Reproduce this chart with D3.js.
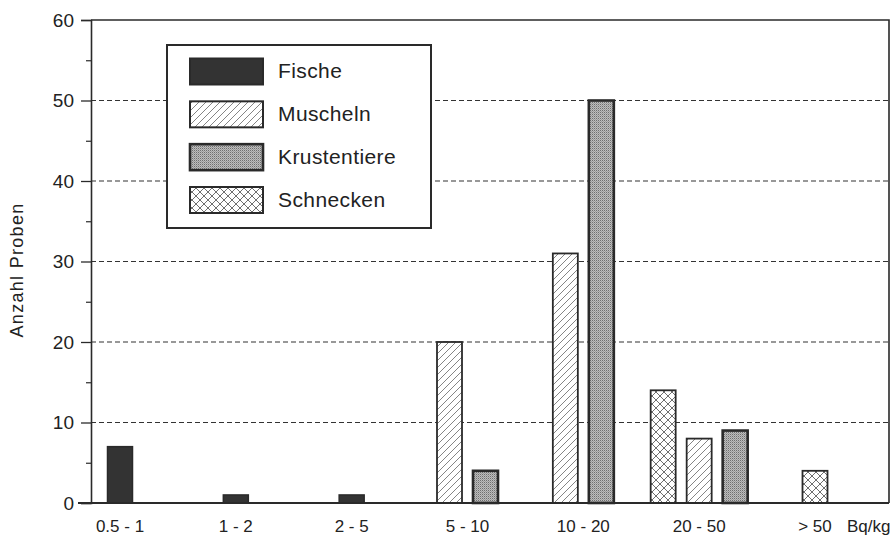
<!DOCTYPE html>
<html>
<head>
<meta charset="utf-8">
<script src="https://cdn.jsdelivr.net/npm/d3@7/dist/d3.min.js"></script>
<style>
  html, body { margin: 0; padding: 0; background: #fff; }
  svg { display: block; }
  text { font-family: "Liberation Sans", Arial, Helvetica, sans-serif; fill: #222; }
</style>
</head>
<body>
<svg id="chart" width="895" height="539"></svg>
<script>
// ---- data ----
const categories = ["0.5 - 1", "1 - 2", "2 - 5", "5 - 10", "10 - 20", "20 - 50", "> 50"];
const unitLabel = "Bq/kg";
const seriesNames = ["Fische", "Schnecken", "Muscheln", "Krustentiere"];
const fische       = [7, 1, 1, 0, 0, 0, 0];
const schnecken    = [0, 0, 0, 0, 0, 14, 4];
const muscheln     = [0, 0, 0, 20, 31, 8, 0];
const krustentiere = [0, 0, 0, 4, 50, 9, 0];
const legendOrder = ["Fische", "Muscheln", "Krustentiere", "Schnecken"];
const yMajorTicks = [0, 10, 20, 30, 40, 50, 60];
const yMinorTicks = [5, 15, 25, 35, 45, 55];
const gridTicks = [10, 20, 30, 40, 50];
const yTitle = "Anzahl Proben";

const valuesBySeries = { Fische: fische, Schnecken: schnecken, Muscheln: muscheln, Krustentiere: krustentiere };

// ---- layout ----
const svg = d3.select("#chart");
const plotLeft = 91, plotRight = 889, plotTop = 20, plotBottom = 503;
const barW = 25, barPitch = 36;

const y = d3.scaleLinear().domain([0, 60]).range([plotBottom, plotTop]);
const x = d3.scalePoint().domain(categories).range([120, 815]);

// ---- patterns ----
const defs = svg.append("defs");
const hatch = defs.append("pattern").attr("id", "hatch").attr("patternUnits", "userSpaceOnUse")
  .attr("width", 7).attr("height", 7);
hatch.append("rect").attr("width", 7).attr("height", 7).attr("fill", "#fff");
hatch.append("path").attr("d", "M-1,8 L8,-1 M-2,2 L2,-2 M5,9 L9,5").attr("stroke", "#666").attr("stroke-width", 0.8);

const cross = defs.append("pattern").attr("id", "cross").attr("patternUnits", "userSpaceOnUse")
  .attr("width", 8).attr("height", 8);
cross.append("rect").attr("width", 8).attr("height", 8).attr("fill", "#fff");
cross.append("path").attr("d", "M0,0 L8,8 M8,0 L0,8").attr("stroke", "#555").attr("stroke-width", 0.85);

const stip = defs.append("pattern").attr("id", "stip").attr("patternUnits", "userSpaceOnUse")
  .attr("width", 2).attr("height", 2);
stip.append("rect").attr("width", 2).attr("height", 2).attr("fill", "#bdbdbd");
stip.append("rect").attr("width", 1).attr("height", 1).attr("fill", "#6f6f6f");
stip.append("rect").attr("x", 1).attr("y", 1).attr("width", 1).attr("height", 1).attr("fill", "#9c9c9c");

const styles = {
  Fische:       { fill: "#333", stroke: "#2a2a2a", sw: 1.5 },
  Muscheln:     { fill: "url(#hatch)", stroke: "#2a2a2a", sw: 1.8 },
  Krustentiere: { fill: "url(#stip)", stroke: "#2a2a2a", sw: 2.6 },
  Schnecken:    { fill: "url(#cross)", stroke: "#2a2a2a", sw: 1.8 }
};

// ---- grid ----
svg.append("g").selectAll("line").data(gridTicks).join("line")
  .attr("x1", plotLeft).attr("x2", plotRight)
  .attr("y1", d => y(d)).attr("y2", d => y(d))
  .attr("stroke", "#333").attr("stroke-width", 1.2).attr("stroke-dasharray", "5,3");

// ---- frame (top & right) ----
svg.append("path")
  .attr("d", `M${plotLeft},${y(60)} H${plotRight} V${y(0)}`)
  .attr("fill", "none").attr("stroke", "#2a2a2a").attr("stroke-width", 1.6);

// ---- bars ----
const barData = [];
categories.forEach((c, i) => {
  const present = seriesNames.filter(s => valuesBySeries[s][i] > 0);
  present.forEach((s, j) => {
    const offset = (j - (present.length - 1) / 2) * barPitch;
    barData.push({ cat: c, series: s, value: valuesBySeries[s][i], cx: x(c) + offset });
  });
});
svg.append("g").selectAll("rect").data(barData).join("rect")
  .attr("x", d => d.cx - barW / 2)
  .attr("width", barW)
  .attr("y", d => y(d.value))
  .attr("height", d => y(0) - y(d.value))
  .attr("fill", d => styles[d.series].fill)
  .attr("stroke", d => styles[d.series].stroke)
  .attr("stroke-width", d => styles[d.series].sw);

// ---- y axis ----
const yAxisMajor = d3.axisLeft(y).tickValues(yMajorTicks).tickSize(10).tickPadding(7).tickFormat(d3.format("d"));
const gy = svg.append("g").attr("transform", `translate(${plotLeft},0)`).call(yAxisMajor);
gy.select(".domain").attr("stroke", "#2a2a2a").attr("stroke-width", 1.6);
gy.selectAll(".tick line").attr("stroke", "#2a2a2a").attr("stroke-width", 1.3);
gy.selectAll(".tick text").style("font-size", "19px").style("font-family", "'Liberation Sans', Arial, sans-serif").attr("fill", "#222");

const yAxisMinor = d3.axisLeft(y).tickValues(yMinorTicks).tickSize(5).tickFormat("");
const gym = svg.append("g").attr("transform", `translate(${plotLeft},0)`).call(yAxisMinor);
gym.select(".domain").remove();
gym.selectAll(".tick line").attr("stroke", "#2a2a2a").attr("stroke-width", 1.2);

// baseline
svg.append("line").attr("x1", 78).attr("x2", plotRight).attr("y1", y(0)).attr("y2", y(0))
  .attr("stroke", "#2a2a2a").attr("stroke-width", 1.8);

// ---- x labels ----
svg.append("g").selectAll("text").data(categories).join("text")
  .attr("x", d => x(d)).attr("y", 532)
  .attr("text-anchor", "middle")
  .style("font-size", "17px")
  .text(d => d);
svg.append("text").attr("x", x("> 50") + 32).attr("y", 532)
  .style("font-size", "17px").text(unitLabel);

// ---- y title ----
svg.append("text")
  .attr("transform", `translate(23,270) rotate(-90)`)
  .attr("text-anchor", "middle")
  .style("font-size", "18px")
  .style("letter-spacing", "1.3px")
  .text(yTitle);

// ---- legend ----
const lg = svg.append("g");
lg.append("rect").attr("x", 167).attr("y", 45).attr("width", 264).attr("height", 183)
  .attr("fill", "#fff").attr("stroke", "#2a2a2a").attr("stroke-width", 2);
const legY = d3.scalePoint().domain(legendOrder).range([71.5, 200]);
lg.selectAll("rect.sw").data(legendOrder).join("rect").attr("class", "sw")
  .attr("x", 190).attr("width", 73)
  .attr("y", d => legY(d) - 13).attr("height", 26)
  .attr("fill", d => styles[d].fill)
  .attr("stroke", "#2a2a2a").attr("stroke-width", d => d === "Krustentiere" ? 2.6 : 2);
lg.selectAll("text").data(legendOrder).join("text")
  .attr("x", 278).attr("y", d => legY(d) + 1)
  .attr("dominant-baseline", "middle")
  .style("font-size", "21px")
  .style("letter-spacing", "0.4px")
  .text(d => d);
</script>
</body>
</html>
